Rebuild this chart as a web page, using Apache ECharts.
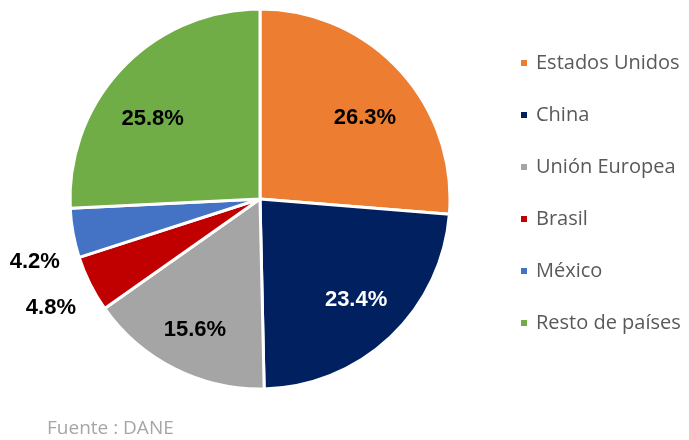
<!DOCTYPE html>
<html>
<head>
<meta charset="utf-8">
<script src="https://cdn.jsdelivr.net/npm/echarts@6/dist/echarts.min.js"></script>
<style>
  html, body { margin: 0; padding: 0; background: #fff; }
  #main { width: 689px; height: 440px; }
</style>
</head>
<body>
<div id="main"></div>
<script>
// chart data
const countries = ['Estados Unidos', 'China', 'Unión Europea', 'Brasil', 'México', 'Resto de países']
const shares = [26.3, 23.4, 15.6, 4.8, 4.2, 25.8]
const colors = ['#ED7D31', '#002060', '#A5A5A5', '#C00000', '#4472C4', '#70AD47']
const labelColors = ['#000', '#fff', '#000', '#000', '#000', '#000']
const source = 'Fuente : DANE'

// small slices get their label outside the pie
const isSmall = (v) => v < 10

// nudges so labels sit where the original put them
const labelNudge = {
  'Estados Unidos': [2, 14],
  'China': [0, -1],
  'Unión Europea': [-2, 6],
  'Brasil': [3, 3],
  'México': [8, 20],
  'Resto de países': [-6, 16]
}

const center = [260, 199]

const labelFont = {
  fontFamily: '"Liberation Sans", Arial, sans-serif',
  fontWeight: 'bold',
  fontSize: 22
}

const pieData = countries.map((name, i) => ({
  name: name,
  value: shares[i],
  itemStyle: { color: colors[i] }
}))

// label layers: transparent pies whose "inside" position lands where the labels sit
const innerLabels = countries.map((name, i) => ({
  name: name,
  value: shares[i],
  label: {
    show: !isSmall(shares[i]),
    color: labelColors[i],
    offset: labelNudge[name]
  }
}))

const outerLabels = countries.map((name, i) => ({
  name: name,
  value: shares[i],
  label: {
    show: isSmall(shares[i]),
    offset: labelNudge[name]
  }
}))

const option = {
  animation: false,
  backgroundColor: '#fff',
  legend: {
    orient: 'vertical',
    left: 519,
    top: 53,
    padding: 0,
    itemWidth: 8,
    itemHeight: 8,
    itemGap: 32,
    icon: 'rect',
    data: countries,
    textStyle: {
      fontFamily: '"Open Sans", "Noto Sans", sans-serif',
      fontSize: 20,
      lineHeight: 20,
      color: '#595959',
      padding: [0, 0, 0, 3]
    }
  },
  graphic: [{
    type: 'text',
    left: 47,
    top: 419,
    style: {
      text: source,
      fontFamily: '"Open Sans", "Noto Sans", sans-serif',
      fontSize: 19,
      fill: '#A6A6A6'
    }
  }],
  series: [
    {
      name: 'share',
      type: 'pie',
      center: center,
      radius: [0, 190],
      startAngle: 90,
      clockwise: true,
      label: { show: false },
      labelLine: { show: false },
      emphasis: { disabled: true },
      itemStyle: { borderColor: '#fff', borderWidth: 3 },
      data: pieData
    },
    {
      name: 'inner labels',
      type: 'pie',
      center: center,
      radius: [84, 190],
      startAngle: 90,
      silent: true,
      legendHoverLink: false,
      itemStyle: { color: 'rgba(0,0,0,0)' },
      label: {
        position: 'inside',
        formatter: (p) => p.value.toFixed(1) + '%',
        ...labelFont
      },
      labelLine: { show: false },
      data: innerLabels
    },
    {
      name: 'outer labels',
      type: 'pie',
      center: center,
      radius: [0, 468],
      startAngle: 90,
      silent: true,
      legendHoverLink: false,
      itemStyle: { color: 'rgba(0,0,0,0)' },
      label: {
        position: 'inside',
        color: '#000',
        formatter: (p) => p.value.toFixed(1) + '%',
        ...labelFont
      },
      labelLine: { show: false },
      data: outerLabels
    }
  ]
}

const myChart = echarts.init(document.getElementById('main'), null, { renderer: 'canvas' })
myChart.setOption(option)
</script>
</body>
</html>
